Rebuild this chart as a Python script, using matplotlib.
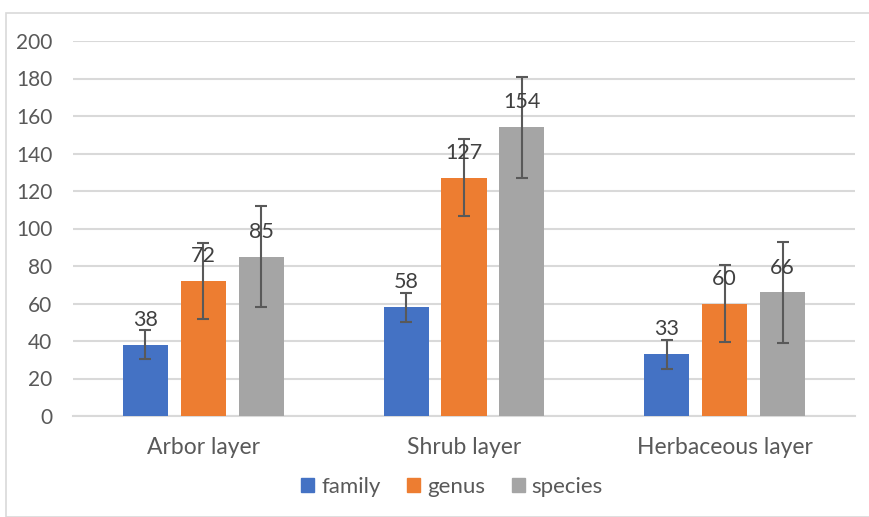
import matplotlib
matplotlib.use("Agg")
import matplotlib.pyplot as plt
import numpy as np
from matplotlib.patches import Rectangle, Patch

categories = ["Arbor layer", "Shrub layer", "Herbaceous layer"]
series_names = ["family", "genus", "species"]
family = [38, 58, 33]
genus = [72, 127, 60]
species = [85, 154, 66]
family_err = [7.8, 7.8, 7.8]
genus_err = [20.5, 20.5, 20.5]
species_err = [27, 27, 27]
yticks = [0, 20, 40, 60, 80, 100, 120, 140, 160, 180, 200]

colors = ["#4472C4", "#ED7D31", "#A5A5A5"]
text_color = "#595959"
grid_color = "#D9D9D9"
plt.rcParams['font.family'] = ['Lato', 'DejaVu Sans']

fig = plt.figure(figsize=(8.7, 5.17), dpi=100)
ax = fig.add_axes([73/870, 1-416/517, (855-73)/870, (416-41)/517])

# outer chart border
fig.patches.append(Rectangle((6/870, 0), 1.0, 1-13/517, transform=fig.transFigure,
                             fill=False, edgecolor="#D9D9D9", linewidth=1.2))

x = np.arange(len(categories))
width = 0.173
step = 0.222
data = [family, genus, species]
errs = [family_err, genus_err, species_err]
for i, (vals, err) in enumerate(zip(data, errs)):
    pos = x + (i - 1) * step
    ax.bar(pos, vals, width, color=colors[i], zorder=3, label=series_names[i])
    ax.errorbar(pos, vals, yerr=err, fmt='none', ecolor="#595959", elinewidth=1.5,
                capsize=4, capthick=1.5, zorder=4)
    for p, v in zip(pos, vals):
        ax.annotate(str(v), (p, v), xytext=(0, 13.5), textcoords='offset points',
                    ha='center', va='baseline', fontsize=15.5, color="#404040", zorder=5)

ax.set_xlim(-0.5, len(categories) - 0.5)
ax.set_ylim(0, 200)
ax.set_yticks(yticks)
ax.set_yticklabels([str(t) for t in yticks])
ax.set_xticks(x)
ax.set_xticklabels(categories, fontsize=16.5)
ax.tick_params(axis='both', length=0, colors=text_color)
ax.tick_params(axis='y', labelsize=15, pad=15)
ax.tick_params(axis='x', pad=15)
for lbl in ax.get_yticklabels():
    lbl.set_horizontalalignment('right')
ax.yaxis.grid(True, color=grid_color, linewidth=1.5, zorder=0)
ax.set_axisbelow(True)
for s in ['top', 'right', 'left']:
    ax.spines[s].set_visible(False)
ax.spines['bottom'].set_color(grid_color)
ax.spines['bottom'].set_linewidth(1.5)

handles = [Patch(color=c, label=n) for c, n in zip(colors, series_names)]
leg = fig.legend(handles=handles, loc='center', bbox_to_anchor=(452/870, 1-487/517),
                 ncol=3, frameon=False, fontsize=16, handlelength=0.6, handleheight=0.6,
                 handletextpad=0.3, columnspacing=1.2, labelcolor=text_color)

fig.savefig("out.png", dpi=100)
